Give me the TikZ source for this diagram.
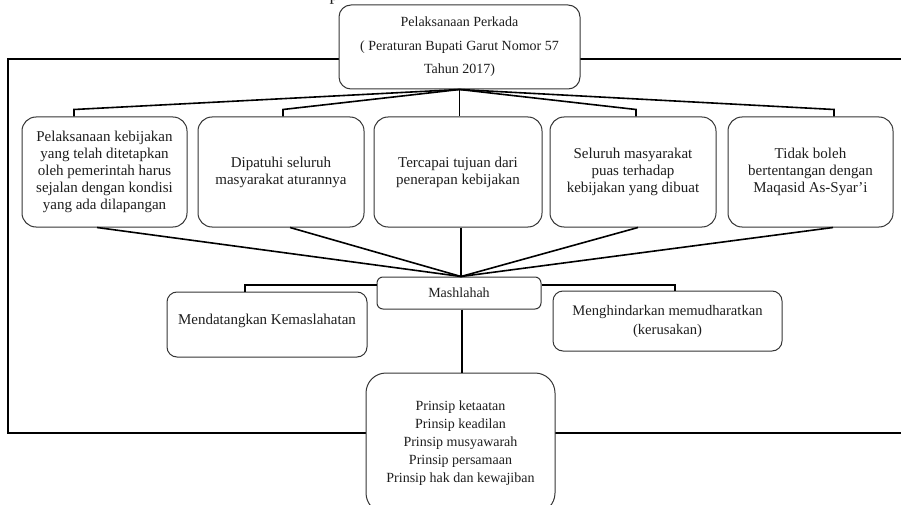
\documentclass[tikz,border=0pt]{standalone}
\usepackage{fontspec}
\setmainfont{Liberation Serif}
\usetikzlibrary{backgrounds}
\definecolor{ink}{HTML}{1E1E1E}
\tikzset{
  box/.style={draw=ink!90, line width=1pt, fill=white, align=center, inner sep=2pt,
    text=ink, font={\fontsize{15}{17}\selectfont}, rounded corners=14pt},
  conn/.style={draw=black, line width=1.6pt},
  frame/.style={draw=black, line width=1.5pt},
}
\begin{document}
\begin{tikzpicture}[x=1pt,y=-1pt]
\clip (0,0) rectangle (901,505);
\useasboundingbox (0,0) rectangle (901,505);

% partial caption fragment at top
\node[anchor=base, inner sep=0pt, text=ink, font={\fontsize{18}{20}\selectfont}] (frag) at (334,1) {p};

% top box
\node[box, minimum width=241pt, minimum height=84pt, rounded corners=12pt,
  font={\fontsize{14}{23.5}\selectfont}] (top) at (459.5,47)
  {Pelaksanaan Perkada\\( Peraturan Bupati Garut Nomor 57\\Tahun 2017)};

% row of five boxes
\node[box, minimum width=165pt, minimum height=110pt] (b1) at (104.5,172)
  {Pelaksanaan kebijakan\\yang telah ditetapkan\\oleh pemerintah harus\\sejalan dengan kondisi\\yang ada dilapangan};
\node[box, minimum width=166pt, minimum height=110pt] (b2) at (281,172)
  {Dipatuhi seluruh\\masyarakat aturannya};
\node[box, minimum width=168pt, minimum height=110pt] (b3) at (458,172)
  {Tercapai tujuan dari\\penerapan kebijakan};
\node[box, minimum width=166pt, minimum height=110pt] (b4) at (633,172)
  {Seluruh masyarakat\\puas terhadap\\kebijakan yang dibuat};
\node[box, minimum width=165pt, minimum height=110pt] (b5) at (810.5,172)
  {Tidak boleh\\bertentangan dengan\\Maqasid As-Syar’i};

% Mashlahah and its branches
\node[box, minimum width=164pt, minimum height=32pt, rounded corners=6pt,
  font={\fontsize{14}{17}\selectfont}] (mash) at (459,293) {Mashlahah};
\node[box, minimum width=200pt, minimum height=65pt, rounded corners=10pt] (m1) at (267,324.5)
  {Mendatangkan Kemaslahatan\\[-6pt]\mbox{}};
\node[box, minimum width=229pt, minimum height=60pt, rounded corners=10pt,
  font={\fontsize{14.6}{19}\selectfont}] (m2) at (667.5,321)
  {Menghindarkan memudharatkan\\(kerusakan)};

% principles box
\node[box, minimum width=189pt, minimum height=140pt, rounded corners=20pt,
  font={\fontsize{14}{18}\selectfont}] (pr) at (460.5,443)
  {Prinsip ketaatan\\Prinsip keadilan\\Prinsip musyawarah\\Prinsip persamaan\\Prinsip hak dan kewajiban};

% outer frame behind everything
\begin{scope}[on background layer]
  \draw[frame] (8,59) rectangle (912,433);
\end{scope}

% connectors from top box to the five boxes
\draw[conn] (top.south) -- ([xshift=-30.5pt,yshift=7pt]b1.north) -- ([xshift=-30.5pt]b1.north);
\draw[conn] (top.south) -- ([xshift=2pt,yshift=7pt]b2.north) -- ([xshift=2pt]b2.north);
\draw[conn] (top.south) -- (top.south |- b3.north);
\draw[conn] (top.south) -- ([xshift=3pt,yshift=7pt]b4.north) -- ([xshift=3pt]b4.north);
\draw[conn] (top.south) -- ([xshift=23.5pt,yshift=7pt]b5.north) -- ([xshift=23.5pt]b5.north);

% connectors from the five boxes to Mashlahah
\coordinate (mtop) at ([xshift=2pt]mash.north);
\draw[conn] ([xshift=-7.5pt]b1.south) -- (mtop);
\draw[conn] ([xshift=9pt]b2.south) -- (mtop);
\draw[conn] (mtop |- b3.south) -- (mtop);
\draw[conn] ([xshift=5pt]b4.south) -- (mtop);
\draw[conn] ([xshift=22.5pt]b5.south) -- (mtop);

% Mashlahah branches
\draw[conn] ([yshift=8pt]mash.west) -| ([xshift=-22pt]m1.north);
\draw[conn] ([yshift=8pt]mash.east) -| ([xshift=7.5pt]m2.north);
\draw[conn] ([xshift=3pt]mash.south) -- ([xshift=3pt]mash.south |- pr.north);
\end{tikzpicture}
\end{document}
